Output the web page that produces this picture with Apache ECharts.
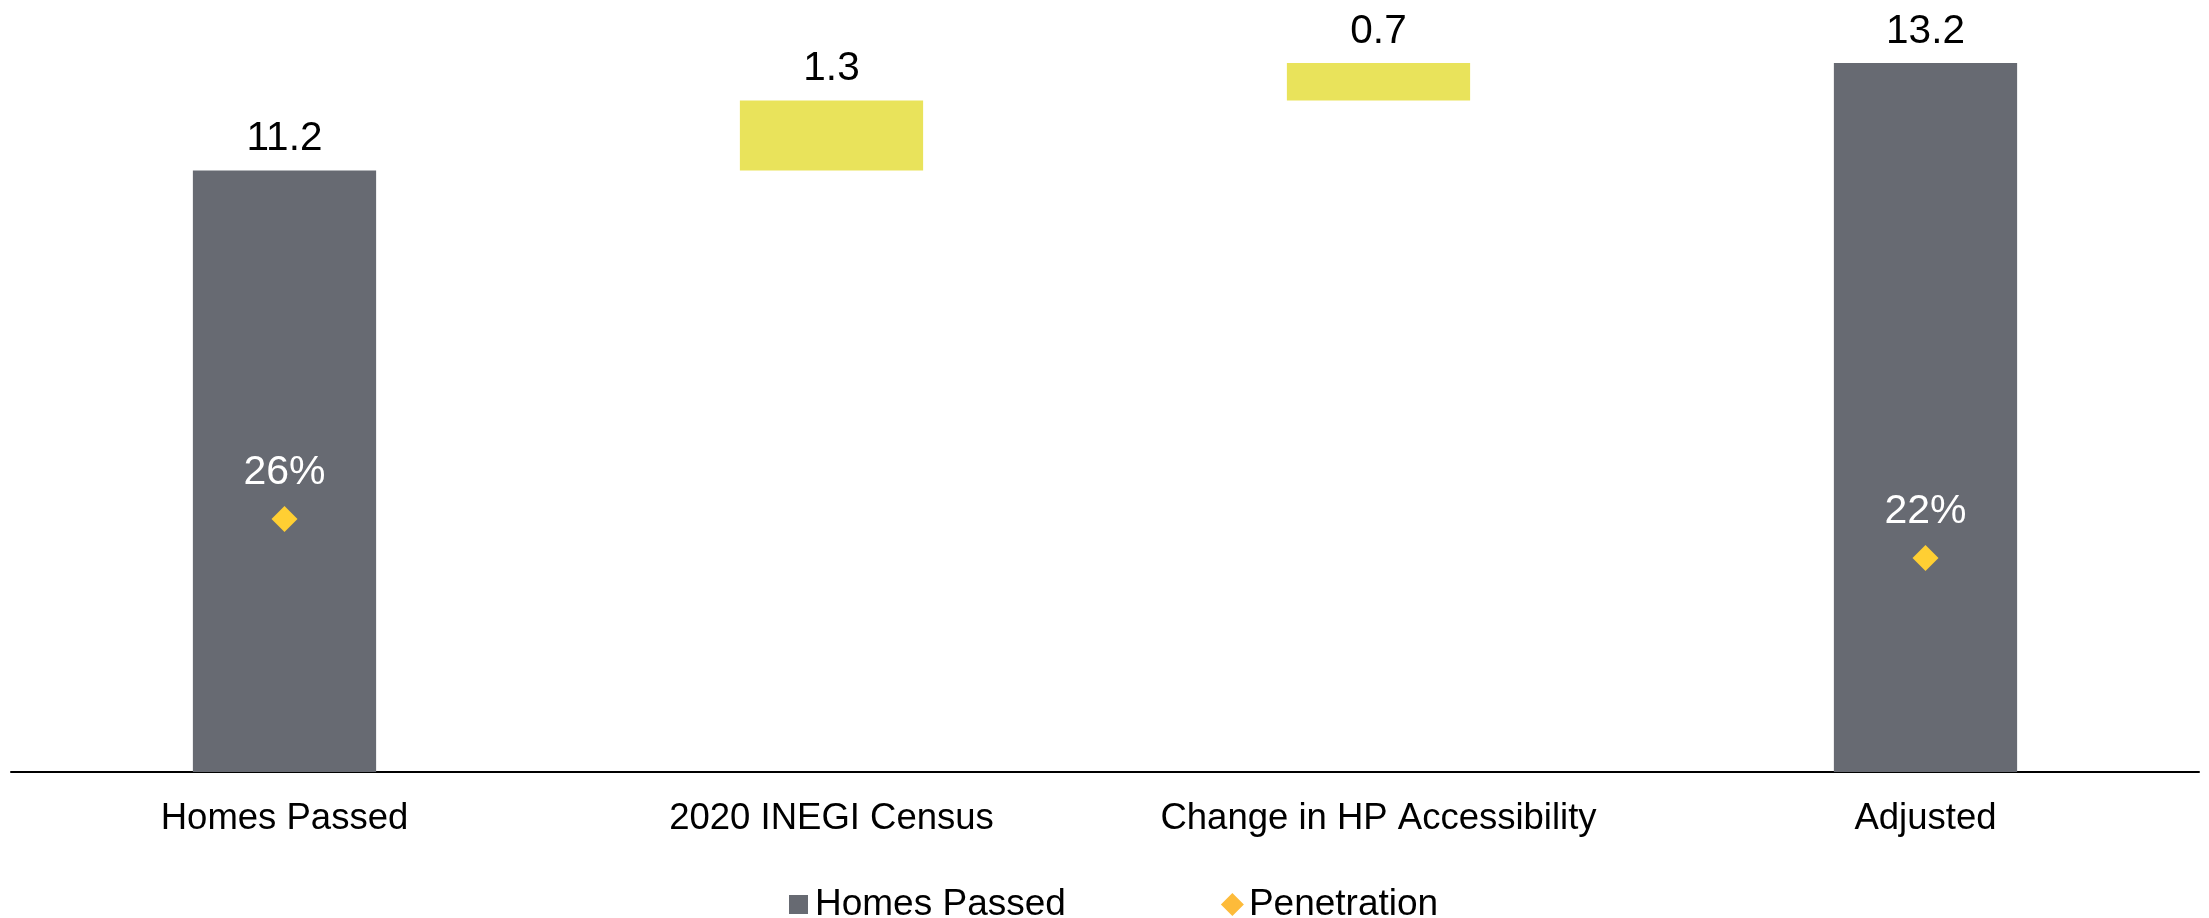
<!DOCTYPE html>
<html>
<head>
<meta charset="utf-8">
<script src="https://cdn.jsdelivr.net/npm/echarts@6/dist/echarts.min.js"></script>
<style>
  html, body { margin: 0; padding: 0; background: #ffffff; }
  #chart { width: 2209px; height: 918px; }
</style>
</head>
<body>
<div id="chart"></div>
<script>
// Homes passed bridge (millions) with penetration rate
const categories = ['Homes Passed', '2020 INEGI Census', 'Change in HP Accessibility', 'Adjusted'];
const totals = [11.2, null, null, 13.2];      // full bars
const changes = [null, 1.3, 0.7, null];       // incremental steps
const penetration = [0.26, null, null, 0.22]; // penetration rate

// Invisible base for each step: running total before that step
const base = [];
let running = 0;
for (let i = 0; i < categories.length; i++) {
  if (totals[i] != null) {
    base.push(0);
    running = totals[i];
  } else {
    base.push(running);
    running += changes[i];
  }
}

const GREY = '#676A72';
const YELLOW = '#E9E35B';
const FONT = "'Liberation Sans', Arial, sans-serif";

const chart = echarts.init(document.getElementById('chart'));
chart.setOption({
  animation: false,
  backgroundColor: '#ffffff',
  grid: { left: 11, right: 10, top: 20, bottom: 146 },
  legend: {
    left: 782,
    top: 881,
    itemWidth: 23,
    itemHeight: 23,
    itemGap: 155,
    textStyle: { fontFamily: FONT, fontSize: 37, color: '#000' },
    data: [
      // square inset inside the 23px icon box
      { name: 'Homes Passed', icon: 'path://M0,0M23,23M2,2L21,2L21,21L2,21Z', itemStyle: { color: GREY } },
      { name: 'Penetration', icon: 'diamond', itemStyle: { color: '#FDBB3A', opacity: 1 } }
    ]
  },
  xAxis: {
    type: 'category',
    data: categories,
    axisLine: { lineStyle: { color: '#000', width: 2 } },
    axisTick: { show: false },
    axisLabel: { fontFamily: FONT, fontSize: 36.5, color: '#000', margin: 28, interval: 0 }
  },
  yAxis: [
    { type: 'value', min: 0, max: 14, show: false, splitLine: { show: false } },
    { type: 'value', min: 0, max: 0.773, show: false, splitLine: { show: false } }
  ],
  series: [
    {
      name: 'base',
      type: 'bar',
      stack: 'bridge',
      barWidth: '33.5%',
      itemStyle: { color: 'transparent' },
      silent: true,
      data: base
    },
    {
      name: 'Homes Passed',
      type: 'bar',
      stack: 'bridge',
      itemStyle: { color: GREY },
      label: {
        show: true, position: 'top', distance: 11,
        fontFamily: FONT, fontSize: 40.5, color: '#000',
        formatter: p => p.value.toFixed(1)
      },
      data: totals
    },
    {
      name: 'Change',
      type: 'bar',
      stack: 'bridge',
      itemStyle: { color: YELLOW },
      label: {
        show: true, position: 'top', distance: 11,
        fontFamily: FONT, fontSize: 40.5, color: '#000',
        formatter: p => p.value.toFixed(1)
      },
      data: changes
    },
    {
      name: 'Penetration',
      type: 'scatter',
      yAxisIndex: 1,
      symbol: 'diamond',
      symbolSize: [26, 26],
      itemStyle: { color: '#FFCF33', opacity: 1 },
      label: {
        show: true, position: 'top', distance: 13,
        fontFamily: FONT, fontSize: 41, color: '#ffffff',
        formatter: p => Math.round(p.value * 100) + '%'
      },
      data: penetration
    }
  ]
});
</script>
</body>
</html>
